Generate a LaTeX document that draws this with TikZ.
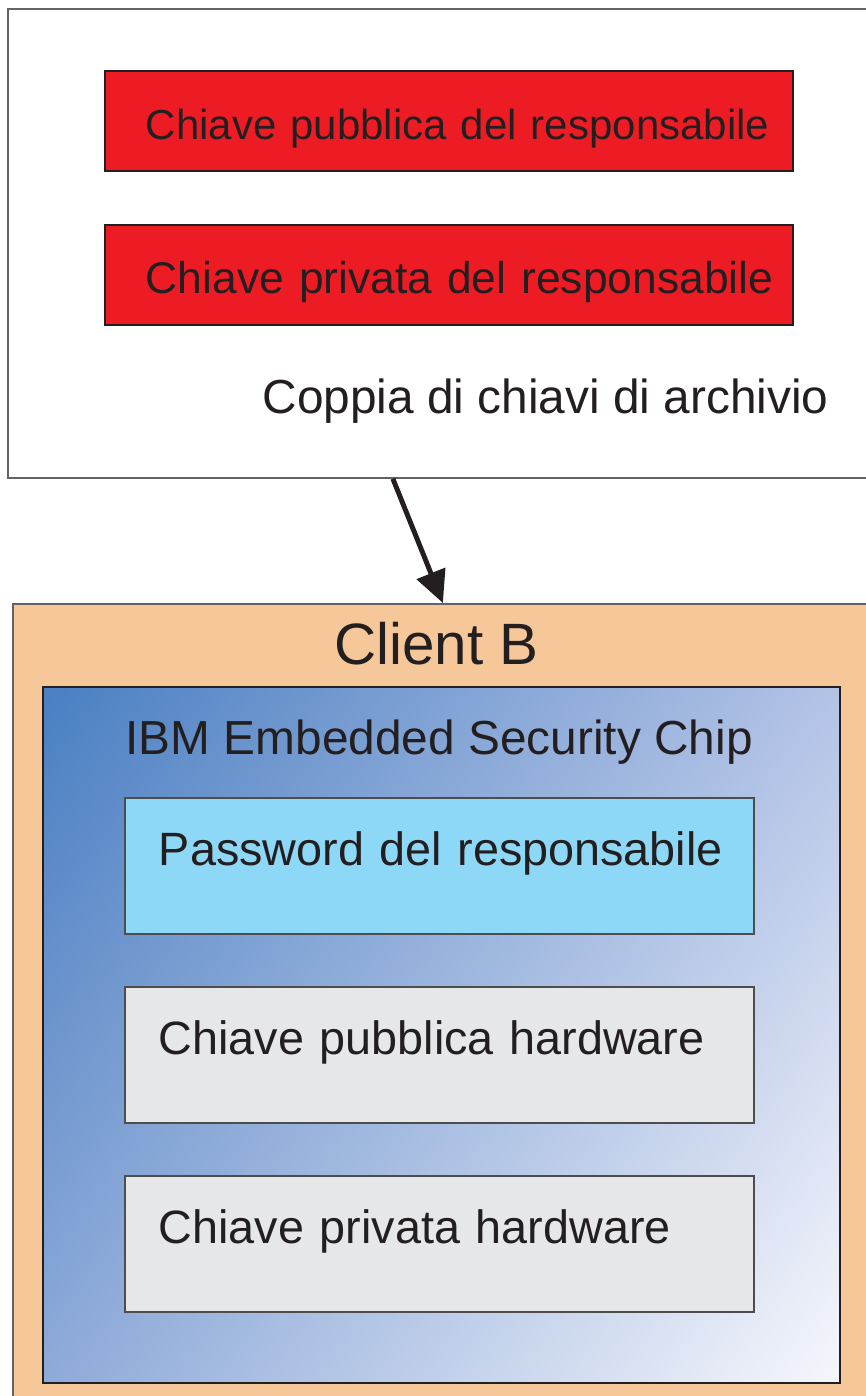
\documentclass[tikz,border=0pt]{standalone}
\usepackage{fontspec}
\setmainfont{Liberation Sans}
\usetikzlibrary{arrows.meta,shadings}

\definecolor{keyred}{HTML}{ED1C24}
\definecolor{clientbg}{HTML}{F5C799}
\definecolor{pwdblue}{HTML}{8DD8F7}
\definecolor{hwgray}{HTML}{E6E7E8}
\definecolor{inkgray}{HTML}{231F20}
\definecolor{chipUL}{HTML}{4A7FC2}
\definecolor{chipUR}{HTML}{B3C3E6}
\definecolor{chipLL}{HTML}{8EAAD9}
\definecolor{chipLR}{HTML}{F6F7FC}

\tikzset{
  txt/.style={text=inkgray, font=\fontsize{13.3}{16}\selectfont},
  label/.style={txt, inner sep=0pt, anchor=base west},
  outerbox/.style={draw=inkgray!70, line width=0.5pt, anchor=north west},
  keybox/.style={txt, draw=inkgray, line width=0.5pt,
    fill=keyred, anchor=north west, minimum height=1cm, text width=6.06cm,
    inner xsep=0.41cm, align=left, text height=0.38cm, text depth=0cm},
  hwbox/.style={txt, draw=inkgray!80, line width=0.5pt, anchor=north west,
    minimum height=1.36cm, text width=5.61cm, inner xsep=0.34cm, align=left,
    text height=0.3cm, text depth=0.3cm}
}

\begin{document}
\begin{tikzpicture}
\useasboundingbox (0,0) rectangle (8.66,-13.96);

% archive key pair
\node[outerbox, fill=white, minimum width=8.75cm, minimum height=4.69cm] (archive) at (0.07,-0.08) {};
\node[keybox, font=\fontsize{11.95}{15}\selectfont] (pubkey) at (1.04,-0.70) {\mbox{Chiave pubblica del responsabile}};
\node[keybox, font=\fontsize{12.65}{15}\selectfont] (privkey) at (1.04,-2.24) {\mbox{Chiave privata del responsabile}};
\node[label, font=\fontsize{13.6}{16}\selectfont] (pairlabel) at (2.62,-4.13) {Coppia di chiavi di archivio};

% client with chip
\node[outerbox, fill=clientbg, minimum width=8.7cm, minimum height=8.1cm] (client) at (0.12,-6.03) {};
\node[txt, inner sep=0pt, anchor=base, font=\fontsize{16.6}{20}\selectfont] (clientlabel) at (4.365,-6.64) {Client B};
\node[draw=inkgray, line width=0.5pt, anchor=north west, shade, upper left=chipUL, upper right=chipUR,
  lower left=chipLL, lower right=chipLR, minimum width=7.97cm, minimum height=6.96cm] (chip) at (0.42,-6.86) {};
\node[label, font=\fontsize{13.6}{16}\selectfont] (chiplabel) at (1.25,-7.54) {IBM Embedded Security Chip};
\node[hwbox, fill=pwdblue] (pwd) at (1.24,-7.97) {\mbox{Password del responsabile}};
\node[hwbox, fill=hwgray] (hwpub) at (1.24,-9.86) {\mbox{Chiave pubblica hardware}};
\node[hwbox, fill=hwgray] (hwpriv) at (1.24,-11.75) {\mbox{Chiave privata hardware}};

\draw[inkgray, line width=1.4pt, -{Triangle[length=0.32cm,width=0.3cm]}]
  ([xshift=-0.525cm]archive.south) -- ([xshift=-0.05cm]client.north);
\end{tikzpicture}
\end{document}
